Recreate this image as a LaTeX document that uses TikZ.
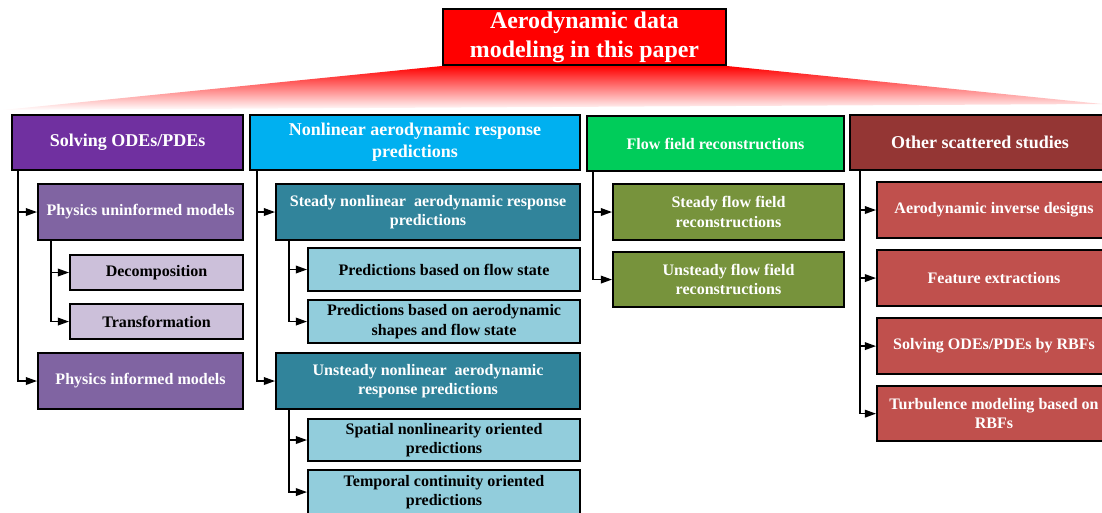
\documentclass[tikz,border=0pt]{standalone}
\usepackage{fontspec}
\setmainfont{Liberation Serif}
\usetikzlibrary{positioning, arrows.meta, calc, backgrounds}

\definecolor{purpleA}{RGB}{112,48,160}
\definecolor{purpleB}{RGB}{128,100,162}
\definecolor{purpleC}{RGB}{204,192,218}
\definecolor{cyanA}{RGB}{0,176,240}
\definecolor{tealB}{RGB}{49,132,155}
\definecolor{tealC}{RGB}{146,205,220}
\definecolor{greenA}{RGB}{0,204,90}
\definecolor{oliveB}{RGB}{119,147,60}
\definecolor{redA}{RGB}{148,54,52}
\definecolor{redB}{RGB}{192,80,77}

\begin{document}
\begin{tikzpicture}[
    x=0.025cm, y=-0.025cm,
    >={Triangle[length=8pt, width=5.5pt]},
    box/.style={rectangle, draw=black, line width=1.3pt, align=center, inner sep=1pt,
        anchor=north west, font=\bfseries\fontsize{11.4}{14}\selectfont},
    topbox/.style={box, anchor=center, fill=red, text=white,
        minimum width=7.08cm, minimum height=1.405cm,
        font=\bfseries\fontsize{17}{20.6}\selectfont},
    headbox/.style={box, minimum height=1.38cm, text=white,
        font=\bfseries\fontsize{12.8}{15.6}\selectfont},
    midbox/.style={box, minimum height=1.405cm, text=white},
    leafbox/.style={box, text=black},
    link/.style={->, line width=1pt}
]
\useasboundingbox (0,0) rectangle (1102,512);
\clip (0,0) rectangle (1102,512);

% Top node and fan
\node[topbox] (paper) at (584.5,37) {Aerodynamic data\\modeling in this paper};
\begin{scope}[on background layer]
\shade[top color=red, bottom color=white] (paper.south west) -- (paper.south east)
    -- (1102,104) -- (3,110) -- cycle;
\end{scope}

% First level
\node[headbox, fill=purpleA, minimum width=5.78cm] (odes) at (11,114) {Solving ODEs/PDEs};
\node[headbox, fill=cyanA, minimum width=8.255cm] (nonlin) at (249,114) {Nonlinear aerodynamic response\\predictions};
\node[headbox, fill=greenA, minimum width=6.43cm,
    font=\bfseries\fontsize{11.4}{14}\selectfont] (flow) at (586,115) {Flow field reconstructions};
\node[headbox, fill=redA, minimum width=6.5cm] (other) at (849,114) {Other scattered studies};

% Solving ODEs/PDEs
\node[midbox, fill=purpleB, minimum width=5.13cm] (uninf) at (37,183) {Physics uninformed models};
\node[leafbox, fill=purpleC, minimum width=4.33cm, minimum height=0.88cm] (decomp) at (69,254) {Decomposition};
\node[leafbox, fill=purpleC, minimum width=4.33cm, minimum height=0.88cm, below=0.3cm of decomp] (transf) {Transformation};
\node[midbox, fill=purpleB, minimum width=5.13cm] (inf) at (37,352) {Physics informed models};

% Nonlinear aerodynamic response predictions
\node[midbox, fill=tealB, minimum width=7.605cm] (steady) at (275,183) {Steady nonlinear~ aerodynamic response\\predictions};
\node[leafbox, fill=tealC, minimum width=6.805cm, minimum height=1.08cm] (pflow) at (307,247) {Predictions based on flow state};
\node[leafbox, fill=tealC, minimum width=6.805cm, minimum height=1.08cm, below=0.175cm of pflow] (pshape) {Predictions based on aerodynamic\\shapes and flow state};
\node[midbox, fill=tealB, minimum width=7.605cm] (unsteady) at (275,352) {Unsteady nonlinear~ aerodynamic\\response predictions};
\node[leafbox, fill=tealC, minimum width=6.805cm, minimum height=1.055cm] (spatial) at (307,418) {Spatial nonlinearity oriented\\predictions};
\node[leafbox, fill=tealC, minimum width=6.805cm, minimum height=1.105cm, below=0.175cm of spatial] (temporal) {Temporal continuity oriented\\predictions};

% Flow field reconstructions
\node[midbox, fill=oliveB, minimum width=5.78cm] (sflow) at (612,183) {Steady flow field\\reconstructions};
\node[midbox, fill=oliveB, minimum width=5.78cm, minimum height=1.38cm, below=0.25cm of sflow] (uflow) {Unsteady flow field\\reconstructions};

% Other scattered studies
\node[midbox, fill=redB, minimum width=5.855cm] (inverse) at (876,181) {Aerodynamic inverse designs};
\node[midbox, fill=redB, minimum width=5.855cm, below=0.25cm of inverse] (feature) {Feature extractions};
\node[midbox, fill=redB, minimum width=5.855cm, below=0.25cm of feature] (rbf) {Solving ODEs/PDEs by RBFs};
\node[midbox, fill=redB, minimum width=5.855cm, minimum height=1.38cm, below=0.25cm of rbf] (turb) {Turbulence modeling based on\\RBFs};

% Connectors
\draw[link] ($(odes.south west)+(7,0)$) |- (uninf);
\draw[link] ($(odes.south west)+(7,0)$) |- (inf);
\draw[link] ($(uninf.south west)+(14,0)$) |- (decomp);
\draw[link] ($(uninf.south west)+(14,0)$) |- (transf);

\draw[link] ($(nonlin.south west)+(8,0)$) |- (steady);
\draw[link] ($(nonlin.south west)+(8,0)$) |- (unsteady);
\draw[link] ($(steady.south west)+(14,0)$) |- (pflow);
\draw[link] ($(steady.south west)+(14,0)$) |- (pshape);
\draw[link] ($(unsteady.south west)+(14,0)$) |- (spatial);
\draw[link] ($(unsteady.south west)+(14,0)$) |- (temporal);

\draw[link] ($(flow.south west)+(7,0)$) |- (sflow);
\draw[link] ($(flow.south west)+(7,0)$) |- (uflow);

\draw[link] ($(other.south west)+(11,0)$) |- (inverse);
\draw[link] ($(other.south west)+(11,0)$) |- (feature);
\draw[link] ($(other.south west)+(11,0)$) |- (rbf);
\draw[link] ($(other.south west)+(11,0)$) |- (turb);

\end{tikzpicture}
\end{document}
